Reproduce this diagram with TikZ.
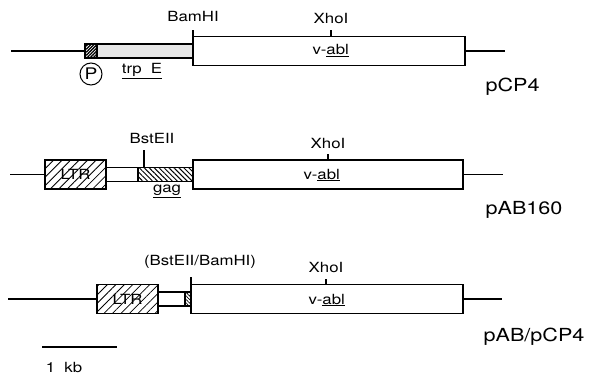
\documentclass[tikz,border=0pt]{standalone}
\usepackage{fontspec}
\setmainfont{TeX Gyre Heros}[FakeStretch=1.2]
\usetikzlibrary{patterns.meta,positioning}

\begin{document}
\begin{tikzpicture}[x=1pt,y=-1pt,line width=1.2pt,
  seg/.style={draw,rectangle,inner sep=0pt,outer sep=0pt,minimum height=14pt,line width=1.4pt},
  gene/.style={draw,rectangle,inner sep=0pt,outer sep=0pt,minimum height=29pt,line width=1.4pt},
  ltr/.style={gene,pattern={Lines[angle=45,distance=6pt,line width=0.8pt]},font=\fontsize{14}{14}\selectfont},
  site/.style={inner sep=0pt,font=\fontsize{14}{14}\selectfont},
  plas/.style={inner sep=0pt,anchor=west,font=\fontsize{18}{18}\selectfont}]
  \useasboundingbox (0,0) rectangle (592,375);

  % pCP4
  \node[seg,minimum width=12pt,anchor=west,pattern={Lines[angle=45,distance=2.2pt,line width=1.3pt]}] (prom1) at (85,51) {};
  \node[seg,minimum width=96pt,right=0pt of prom1,preaction={fill=gray!15},pattern={Dots[radius=0.45pt,distance=2pt]},pattern color=gray!70] (trp) {};
  \node[gene,minimum width=272pt,right=0pt of trp] (abl1) {};
  \coordinate (l1) at (11,51);
  \coordinate (r1) at (505,51);
  \draw (l1) -- (prom1);
  \draw (abl1) -- (r1);
  \coordinate (bamtop1) at (193,30);
  \draw (bamtop1) -- (bamtop1 |- abl1.north);
  \node[site] (bamlab1) at (193,17) {BamHI};
  \coordinate (xhotop1) at (331,30);
  \draw (xhotop1) -- (xhotop1 |- abl1.north);
  \node[site] (xholab1) at (331,19) {XhoI};
  \node[site,anchor=west] (vabl1) at (312,51) {v-\underline{abl}};
  \node[site,draw,circle,minimum size=22pt,line width=1pt,font=\fontsize{16}{16}\selectfont] (prom) at (91,74) {P};
  \node[site] (trplab) at (142,71) {\underline{trp\ \ E}};
  \node[plas] (pcp4) at (485,87) {pCP4};

  % pAB160
  \node[ltr,minimum width=61pt,anchor=west] (ltr2) at (45,174.5) {LTR};
  \node[seg,minimum width=32pt,right=0pt of ltr2] (lnk2) {};
  \node[seg,minimum width=55pt,right=0pt of lnk2,pattern={Lines[angle=-45,distance=3.5pt,line width=1pt]}] (gag) {};
  \node[gene,minimum width=270pt,right=0pt of gag] (abl2) {};
  \coordinate (l2) at (10,174.5);
  \coordinate (r2) at (503,174.5);
  \draw (l2) -- (ltr2);
  \draw (abl2) -- (r2);
  \coordinate (bsttop) at (144,150);
  \draw (bsttop) -- (bsttop |- gag.north);
  \node[site] (bstlab) at (152,138) {BstEII};
  \node[site] (gaglab) at (167,191) {\underline{gag}};
  \coordinate (xhotop2) at (328,154);
  \draw (xhotop2) -- (xhotop2 |- abl2.north);
  \node[site] (xholab2) at (328,143) {XhoI};
  \node[site,anchor=west] (vabl2) at (303,175) {v-\underline{abl}};
  \node[plas] (pab160) at (485,210) {pAB160};

  % pAB/pCP4
  \node[ltr,minimum width=61pt,anchor=west] (ltr3) at (97,299) {LTR};
  \node[seg,minimum width=27pt,right=0pt of ltr3] (lnk3) {};
  \node[seg,minimum width=6pt,right=0pt of lnk3,pattern={Lines[angle=-45,distance=2.5pt,line width=0.8pt]}] (fus3) {};
  \node[gene,minimum width=272pt,right=0pt of fus3] (abl3) {};
  \coordinate (l3) at (8,299);
  \coordinate (r3) at (502,299);
  \draw (l3) -- (ltr3);
  \draw (abl3) -- (r3);
  \coordinate (bamtop3) at (191,277);
  \draw (bamtop3) -- (bamtop3 |- abl3.north);
  \node[site] (bamlab3) at (200,262) {(BstEII/BamHI)};
  \coordinate (xhotop3) at (326,279);
  \draw (xhotop3) -- (xhotop3 |- abl3.north);
  \node[site] (xholab3) at (326,267) {XhoI};
  \node[site,anchor=west] (vabl3) at (308,300) {v-\underline{abl}};
  \node[plas] (pabcp4) at (483,337) {pAB/pCP4};

  % scale
  \coordinate (s1) at (42,347);
  \coordinate (s2) at (117,347);
  \draw (s1) -- (s2);
  \node[site] (kb) at (64,367) {1\ \ kb};
\end{tikzpicture}
\end{document}
